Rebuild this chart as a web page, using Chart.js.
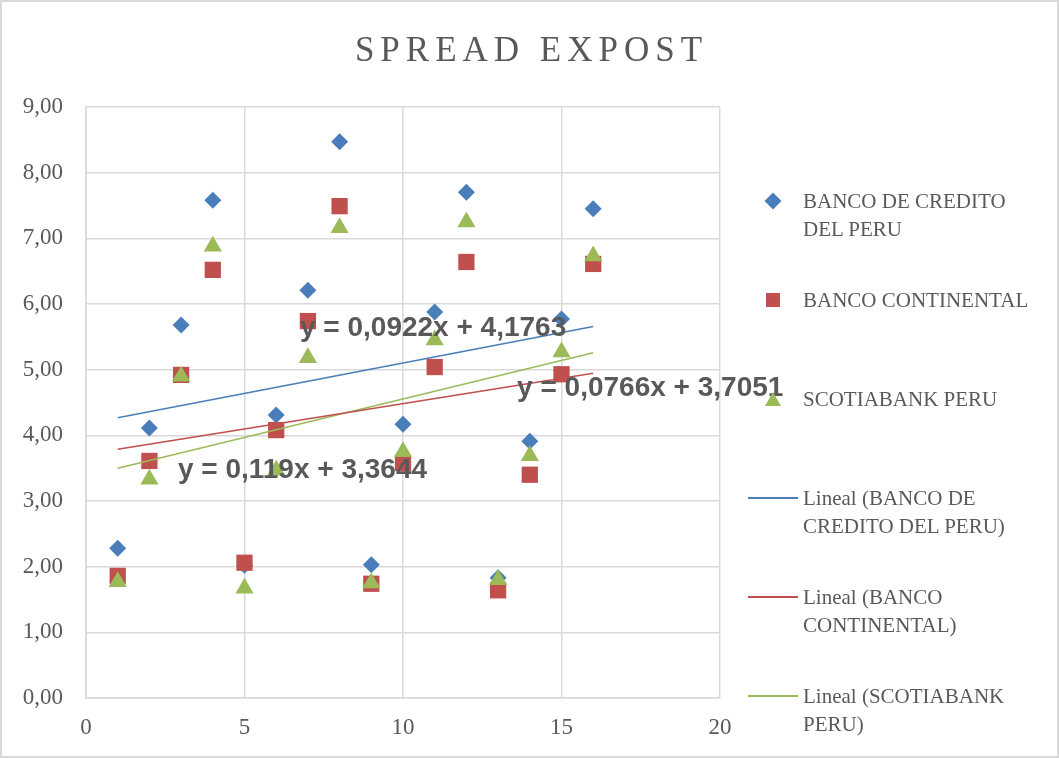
<!DOCTYPE html>
<html>
<head>
<meta charset="utf-8">
<script src="https://cdn.jsdelivr.net/npm/chart.js@4"></script>
<style>
  body { margin: 0; background: #fff; }
  #wrap { position: relative; width: 1059px; height: 758px; box-sizing: border-box; border: 2px solid #d9d9d9; overflow: hidden; }
  #chart { position: absolute; left: -2px; top: -2px; }
  #title { position: absolute; left: 0; width: 1059px; top: 28px; text-align: center; font: 35px "Liberation Serif", serif; letter-spacing: 6px; color: #595959; }
  .leg { position: absolute; left: 801px; font: 21px/28px "Liberation Serif", serif; color: #595959; }
  .mk { position: absolute; }
</style>
</head>
<body>
<div id="wrap">
  <canvas id="chart" width="1059" height="758"></canvas>
  <div id="title">SPREAD EXPOST</div>
  <div id="legend"></div>
</div>
<script>
// x values (period) and the three series
const xs = [1, 2, 3, 4, 5, 6, 7, 8, 9, 10, 11, 12, 13, 14, 15, 16];
const bcp = [2.28, 4.11, 5.68, 7.58, 2.02, 4.31, 6.21, 8.47, 2.03, 4.17, 5.88, 7.70, 1.83, 3.91, 5.77, 7.45];
const continental = [1.86, 3.61, 4.92, 6.52, 2.06, 4.08, 5.74, 7.49, 1.74, 3.58, 5.04, 6.64, 1.64, 3.40, 4.93, 6.61];
const scotiabank = [1.77, 3.33, 4.90, 6.88, 1.67, 3.47, 5.18, 7.16, 1.75, 3.75, 5.45, 7.25, 1.80, 3.69, 5.27, 6.73];

const seriesNames = ['BANCO DE CREDITO DEL PERU', 'BANCO CONTINENTAL', 'SCOTIABANK PERU'];
const equations = ['y = 0,0922x + 4,1763', 'y = 0,0766x + 3,7051', 'y = 0,119x + 3,3644'];

const colors = ['#4a7ebb', '#c0504d', '#9bbb59'];
const styles = ['rectRot', 'rect', 'triangle'];
const radii = [8.5, 11.5, 10.5];
// where each equation label sits, in data units (left edge, vertical middle)
const eqPos = [[6.75, 5.63], [13.6, 4.72], [2.9, 3.47]];

function toPoints(ys) {
    return xs.map((x, i) => ({ x: x, y: ys[i] }));
}

// least squares fit, drawn from first to last x
function trend(ys) {
    const n = xs.length;
    const mx = xs.reduce((a, b) => a + b, 0) / n;
    const my = ys.reduce((a, b) => a + b, 0) / n;
    let sxy = 0, sxx = 0;
    for (let i = 0; i < n; i++) {
        sxy += (xs[i] - mx) * (ys[i] - my);
        sxx += (xs[i] - mx) * (xs[i] - mx);
    }
    const m = sxy / sxx, b = my - m * mx;
    const x0 = xs[0], x1 = xs[n - 1];
    return [{ x: x0, y: m * x0 + b }, { x: x1, y: m * x1 + b }];
}

const allSeries = [bcp, continental, scotiabank];
const datasets = [];
allSeries.forEach((ys, i) => {
    datasets.push({
        label: seriesNames[i],
        data: toPoints(ys),
        showLine: false,
        pointStyle: styles[i],
        pointRadius: radii[i],
        pointHoverRadius: radii[i],
        pointBackgroundColor: colors[i],
        pointBorderColor: colors[i],
        pointBorderWidth: 0,
        order: 3 - i
    });
});
allSeries.forEach((ys, i) => {
    datasets.push({
        label: 'Lineal (' + seriesNames[i] + ')',
        data: trend(ys),
        showLine: true,
        pointRadius: 0,
        borderColor: colors[i],
        borderWidth: 1.5,
        order: 0
    });
});

const equationLabels = {
    id: 'equationLabels',
    afterDatasetsDraw(chart) {
        const ctx = chart.ctx;
        const sx = chart.scales.x, sy = chart.scales.y;
        ctx.save();
        ctx.font = 'bold 28px "Liberation Sans", Arial, sans-serif';
        ctx.fillStyle = '#595959';
        ctx.textBaseline = 'middle';
        ctx.textAlign = 'left';
        equations.forEach((t, i) => {
            ctx.fillText(t, sx.getPixelForValue(eqPos[i][0]), sy.getPixelForValue(eqPos[i][1]));
        });
        ctx.restore();
    }
};

const tickFont = { family: '"Liberation Serif", serif', size: 23 };

new Chart(document.getElementById('chart'), {
    type: 'scatter',
    data: { datasets: datasets },
    options: {
        responsive: false,
        animation: false,
        layout: { padding: { left: 0, right: 339, top: 107, bottom: 0 } },
        plugins: {
            legend: { display: false },
            title: { display: false },
            tooltip: { enabled: false }
        },
        scales: {
            x: {
                type: 'linear',
                min: 0,
                max: 20,
                afterFit: s => { s.height = 60; },
                ticks: { stepSize: 5, padding: 16, color: '#595959', font: tickFont },
                grid: { color: '#d9d9d9', lineWidth: 1.5, drawTicks: false },
                border: { color: '#d9d9d9', width: 1.5 }
            },
            y: {
                min: 0,
                max: 9,
                afterFit: s => { s.width = 86; },
                ticks: {
                    stepSize: 1,
                    padding: 23,
                    color: '#595959',
                    font: tickFont,
                    callback: v => v.toFixed(2).replace('.', ',')
                },
                grid: { color: '#d9d9d9', lineWidth: 1.5, drawTicks: false },
                border: { color: '#d9d9d9', width: 1.5 }
            }
        }
    },
    plugins: [equationLabels]
});

// legend on the right, wrapped like the original
const legendItems = [
    { kind: 'diamond', lines: ['BANCO DE CREDITO', 'DEL PERU'], y: 199 },
    { kind: 'square', lines: ['BANCO CONTINENTAL'], y: 298 },
    { kind: 'triangle', lines: ['SCOTIABANK PERU'], y: 397 },
    { kind: 'line', lines: ['Lineal (BANCO DE', 'CREDITO DEL PERU)'], y: 496 },
    { kind: 'line', lines: ['Lineal (BANCO', 'CONTINENTAL)'], y: 595 },
    { kind: 'line', lines: ['Lineal (SCOTIABANK', 'PERU)'], y: 694 }
];
const legendEl = document.getElementById('legend');
legendItems.forEach((it, i) => {
    const c = colors[i % 3];
    const mk = document.createElement('div');
    mk.className = 'mk';
    if (it.kind === 'diamond') {
        mk.style.cssText = `left:${771 - 6}px;top:${it.y - 6}px;width:12px;height:12px;background:${c};transform:rotate(45deg);`;
    } else if (it.kind === 'square') {
        mk.style.cssText = `left:${771 - 7}px;top:${it.y - 7}px;width:14px;height:14px;background:${c};`;
    } else if (it.kind === 'triangle') {
        mk.style.cssText = `left:${771 - 8}px;top:${it.y - 7}px;width:0;height:0;border-left:8px solid transparent;border-right:8px solid transparent;border-bottom:14px solid ${c};`;
    } else {
        mk.style.cssText = `left:746px;top:${it.y - 1}px;width:50px;height:2px;background:${c};`;
    }
    legendEl.appendChild(mk);
    const tx = document.createElement('div');
    tx.className = 'leg';
    tx.style.top = (it.y - 14) + 'px';
    tx.innerHTML = it.lines.join('<br>');
    legendEl.appendChild(tx);
});
</script>
</body>
</html>
